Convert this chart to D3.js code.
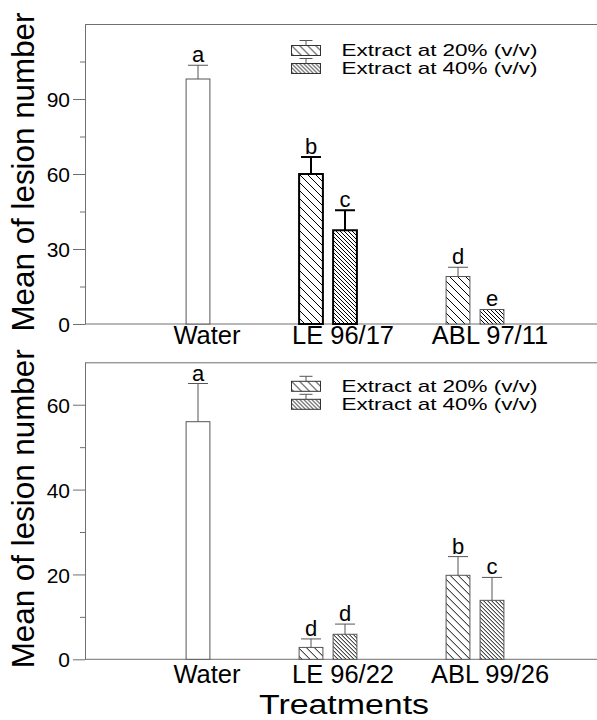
<!DOCTYPE html>
<html lang="en">
<head>
    <meta charset="utf-8">
    <title>Mean of lesion number</title>
    <style>
        body {
            margin: 0;
            background: #fff;
        }

        text {
            font-family: "Liberation Sans", Arial, sans-serif;
            fill: #000;
        }

        .axis path, .axis line {
            stroke: #707070;
            stroke-width: 1px;
        }
    </style>
</head>

<body>
<script src="https://cdn.jsdelivr.net/npm/d3@7"></script>

<script>

    // bar order: Water, 20%, 40%, 20%, 40%
    var barGroupIndex = [0, 1, 1, 2, 2];
    var barSeries = ["water", "s20", "s40", "s20", "s40"];

    var seriesNames = ["Extract at 20% (v/v)", "Extract at 40% (v/v)"];
    var seriesKeys = ["s20", "s40"];

    var topGroups = ["Water", "LE 96/17", "ABL 97/11"];
    var topMeans = [98, 60, 37.5, 19, 5.8];
    var topErrors = [5.5, 6.8, 8, 3.7, 0];
    var topLetters = ["a", "b", "c", "d", "e"];
    var topTicks = [0, 30, 60, 90];
    var topMinorTicks = [15, 45, 75, 105];
    var topMax = 120;

    var bottomGroups = ["Water", "LE 96/22", "ABL 99/26"];
    var bottomMeans = [56, 2.8, 5.9, 19.8, 13.9];
    var bottomErrors = [9, 2, 2.4, 4.4, 5.4];
    var bottomLetters = ["a", "d", "d", "b", "c"];
    var bottomTicks = [0, 20, 40, 60];
    var bottomMinorTicks = [10, 30, 50];
    var bottomMax = 70;

    var width = 597,
        height = 720;

    var svg = d3.select("body").append("svg")
        .attr("width", width)
        .attr("height", height);

    var defs = svg.append("defs");

    function hatch(id, size) {
        var p = defs.append("pattern")
            .attr("id", id)
            .attr("patternUnits", "userSpaceOnUse")
            .attr("width", size)
            .attr("height", size);
        p.append("rect")
            .attr("width", size)
            .attr("height", size)
            .attr("fill", "#fff");
        p.append("path")
            .attr("d", "M0,0L" + size + "," + size
                + "M" + (-size / 2) + "," + (size / 2) + "L" + (size / 2) + "," + (size * 1.5)
                + "M" + (size / 2) + "," + (-size / 2) + "L" + (size * 1.5) + "," + (size / 2))
            .attr("stroke", "#000")
            .attr("stroke-width", 1);
    }

    hatch("hatch20", 8);
    hatch("hatch40", 4);

    var fills = {water: "#fff", s20: "url(#hatch20)", s40: "url(#hatch40)"};

    var left = 85,
        plotW = width - left;

    function drawPanel(cfg) {
        var h = cfg.height;
        var g = svg.append("g")
            .attr("transform", "translate(" + left + "," + cfg.top + ")");

        var x = d3.scalePoint()
            .domain(cfg.groups)
            .range([96, 390]);

        var inner = d3.scaleBand()
            .domain(seriesKeys)
            .range([-34, 34])
            .paddingInner(0.3)
            .paddingOuter(0.15);

        var y = d3.scaleLinear()
            .domain([0, cfg.max])
            .range([h, 0]);

        var bars = cfg.means.map(function (m, i) {
            var s = barSeries[i];
            var slot = s === "water" ? "s40" : s;
            return {
                group: barGroupIndex[i],
                series: s,
                mean: m,
                err: cfg.errors[i],
                letter: cfg.letters[i],
                x0: x(cfg.groups[barGroupIndex[i]]) + inner(slot),
                bold: barGroupIndex[i] === cfg.boldGroup
            };
        });

        // frame lines: top border and baseline
        g.append("line")
            .attr("x1", 0).attr("x2", plotW)
            .attr("y1", 0.5).attr("y2", 0.5)
            .attr("stroke", "#707070");
        g.append("line")
            .attr("x1", 0).attr("x2", plotW)
            .attr("y1", h).attr("y2", h)
            .attr("stroke", "#707070");

        // y axis
        var yAxis = g.append("g")
            .attr("class", "axis")
            .call(d3.axisLeft(y)
                .tickValues(cfg.ticks)
                .tickSize(12)
                .tickSizeOuter(0)
                .tickPadding(3)
                .tickFormat(d3.format("d")));
        yAxis.selectAll("text")
            .style("font-size", "21px")
            .attr("fill", "#000")
            .attr("dy", "0.36em");

        g.append("g")
            .attr("class", "axis")
            .call(d3.axisLeft(y)
                .tickValues(cfg.minor)
                .tickSize(5)
                .tickSizeOuter(0)
                .tickFormat(""))
            .select(".domain").remove();

        // bars
        g.selectAll(".bar")
            .data(bars)
            .enter()
            .append("rect")
            .attr("class", "bar")
            .attr("x", function (d) { return d.x0; })
            .attr("y", function (d) { return y(d.mean); })
            .attr("width", inner.bandwidth())
            .attr("height", function (d) { return h - y(d.mean); })
            .attr("fill", function (d) { return fills[d.series]; })
            .attr("stroke", function (d) { return d.bold ? "#000" : "#555"; })
            .attr("stroke-width", function (d) { return d.bold ? 2 : 1; });

        // error bars (upper only)
        var eb = g.selectAll(".err")
            .data(bars.filter(function (d) { return d.err > 0; }))
            .enter()
            .append("g")
            .attr("class", "err")
            .attr("stroke", function (d) { return d.bold ? "#000" : "#555"; })
            .attr("stroke-width", function (d) { return d.bold ? 2 : 1; });
        eb.append("line")
            .attr("x1", function (d) { return d.x0 + inner.bandwidth() / 2; })
            .attr("x2", function (d) { return d.x0 + inner.bandwidth() / 2; })
            .attr("y1", function (d) { return y(d.mean); })
            .attr("y2", function (d) { return y(d.mean + d.err); });
        eb.append("line")
            .attr("x1", function (d) { return d.x0 + inner.bandwidth() / 2 - 10; })
            .attr("x2", function (d) { return d.x0 + inner.bandwidth() / 2 + 10; })
            .attr("y1", function (d) { return y(d.mean + d.err); })
            .attr("y2", function (d) { return y(d.mean + d.err); });

        // significance letters
        g.selectAll(".letter")
            .data(bars)
            .enter()
            .append("text")
            .attr("class", "letter")
            .attr("x", function (d) { return d.x0 + inner.bandwidth() / 2; })
            .attr("y", function (d) { return y(d.mean + d.err) - (d.err > 0 ? 3 : 4); })
            .attr("text-anchor", "middle")
            .style("font-size", "22px")
            .text(function (d) { return d.letter; });

        // category labels
        g.selectAll(".cat")
            .data(cfg.groups)
            .enter()
            .append("text")
            .attr("class", "cat")
            .attr("x", function (d, i) { return x(d) + inner("s40") + inner.bandwidth() / 2 + (i === 0 ? 9 : -2); })
            .attr("y", h + cfg.labelGap)
            .attr("text-anchor", "middle")
            .style("font-size", "25.5px")
            .text(function (d) { return d; });

        // y title
        g.append("text")
            .attr("transform", "translate(" + (33.5 - left) + "," + (h / 2 - 2) + ") rotate(-90)")
            .attr("text-anchor", "middle")
            .attr("textLength", 319)
            .attr("lengthAdjust", "spacingAndGlyphs")
            .style("font-size", "30.5px")
            .text("Mean of lesion number");

        // legend
        var lg = g.selectAll(".legend")
            .data(seriesKeys)
            .enter()
            .append("g")
            .attr("class", "legend")
            .attr("transform", function (d, i) {
                return "translate(206.5," + (cfg.legendTop + i * 18) + ")";
            });
        lg.append("rect")
            .attr("width", 29)
            .attr("height", 10)
            .attr("fill", function (d) { return fills[d]; })
            .attr("stroke", "#333")
            .attr("stroke-width", 1);
        lg.append("path")
            .attr("d", "M14.5,0V-5M8,-5H21")
            .attr("stroke", "#555")
            .attr("fill", "none");
        lg.append("text")
            .attr("x", 50)
            .attr("y", 10.5)
            .attr("textLength", 196)
            .attr("lengthAdjust", "spacingAndGlyphs")
            .style("font-size", "17px")
            .text(function (d, i) { return seriesNames[i]; });
    }

    drawPanel({
        top: 24, height: 300, groups: topGroups, means: topMeans, errors: topErrors,
        letters: topLetters, ticks: topTicks, minor: topMinorTicks, max: topMax,
        boldGroup: 1, labelGap: 19.5, legendTop: 21.5
    });

    drawPanel({
        top: 362.3, height: 297, groups: bottomGroups, means: bottomMeans, errors: bottomErrors,
        letters: bottomLetters, ticks: bottomTicks, minor: bottomMinorTicks, max: bottomMax,
        boldGroup: -1, labelGap: 24, legendTop: 19
    });

    svg.append("text")
        .attr("x", 344)
        .attr("y", 714)
        .attr("text-anchor", "middle")
        .attr("textLength", 170)
        .attr("lengthAdjust", "spacingAndGlyphs")
        .style("font-size", "27px")
        .text("Treatments");

</script>

</body>
</html>
